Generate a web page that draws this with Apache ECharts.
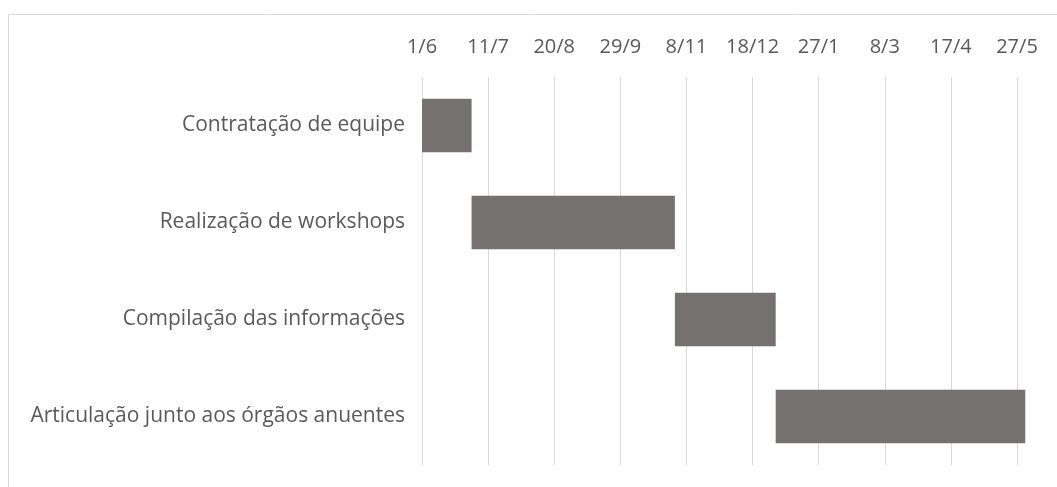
<!DOCTYPE html>
<html>
<head>
<meta charset="utf-8">
<script src="https://cdn.jsdelivr.net/npm/echarts@6/dist/echarts.min.js"></script>
<style>
  html, body { margin: 0; padding: 0; background: #fff; }
  #chart { width: 1057px; height: 487px; }
</style>
</head>
<body>
<div id="chart"></div>
<script>
// tarefas do cronograma
var tasks = [
  'Contratação de equipe',
  'Realização de workshops',
  'Compilação das informações',
  'Articulação junto aos órgãos anuentes'
]
// data de início e duração em dias
var startDates = ['2020-06-01', '2020-07-01', '2020-11-01', '2021-01-01']
var durations = [30, 123, 61, 151]

// eixo: dias contados a partir de 1/6
var axisStart = '2020-06-01'
var axisMin = 0
var axisMax = 360
var axisStep = 40

var DAY = 24 * 3600 * 1000
var t0 = Date.parse(axisStart)
var offsets = startDates.map(function (d) {
  return Math.round((Date.parse(d) - t0) / DAY)
})

var chart = echarts.init(document.getElementById('chart'))
var font = '"Open Sans", sans-serif'

chart.setOption({
  animation: false,
  graphic: [
    {
      type: 'rect',
      shape: { x: 8.5, y: 14.5, width: 1200, height: 600 },
      style: { fill: null, stroke: '#d9d9d9', lineWidth: 1 },
      silent: true
    }
  ],
  grid: {
    left: 422,
    right: 40,
    top: 77,
    bottom: 22,
    containLabel: false
  },
  xAxis: {
    type: 'value',
    position: 'top',
    min: axisMin,
    max: axisMax,
    interval: axisStep,
    axisLine: { show: false },
    axisTick: { show: false },
    splitLine: { lineStyle: { color: '#d9d9d9', width: 1 } },
    axisLabel: {
      margin: 20,
      color: '#595959',
      fontFamily: font,
      fontSize: 20,
      showMaxLabel: true,
      formatter: function (v) {
        var d = new Date(t0 + v * DAY)
        return d.getUTCDate() + '/' + (d.getUTCMonth() + 1)
      }
    }
  },
  yAxis: {
    type: 'category',
    inverse: true,
    data: tasks,
    axisLine: { show: false },
    axisTick: { show: false },
    splitLine: { show: false },
    axisLabel: {
      margin: 17,
      color: '#595959',
      fontFamily: font,
      fontSize: 21
    }
  },
  series: [
    {
      type: 'bar',
      stack: 'gantt',
      silent: true,
      itemStyle: { color: 'transparent' },
      data: offsets
    },
    {
      type: 'bar',
      stack: 'gantt',
      clip: false,
      barWidth: '55%',
      itemStyle: { color: '#767171' },
      data: durations
    }
  ]
})
</script>
</body>
</html>
